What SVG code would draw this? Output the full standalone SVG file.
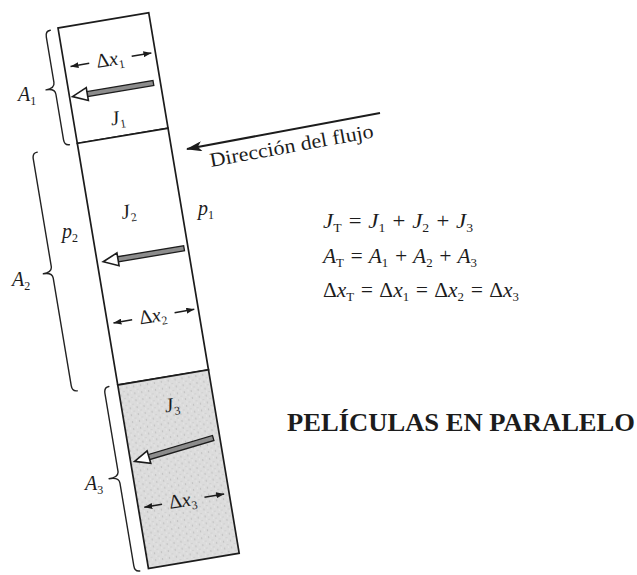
<svg xmlns="http://www.w3.org/2000/svg" width="637" height="575" viewBox="0 0 637 575">
<style>
.ln{stroke:#1c1c1c;stroke-width:1.7}
.br{fill:none;stroke:#222;stroke-width:1.4;stroke-linejoin:round;stroke-linecap:round}
.it{font-family:"Liberation Serif","DejaVu Serif",serif;font-style:italic;font-size:20px;fill:#1c1c1c}
.rm{font-family:"Liberation Serif","DejaVu Serif",serif;font-size:20px;fill:#1c1c1c}
.eq{font-family:"Liberation Serif","DejaVu Serif",serif;font-style:italic;font-size:20px;fill:#1c1c1c}
.ttl{font-family:"Liberation Serif","DejaVu Serif",serif;font-weight:bold;font-size:26px;fill:#1c1c1c}
.sb{font-size:12px;font-style:normal}
.dx{stroke:#1c1c1c;stroke-width:1.5;fill:none}
</style>
<defs>
<marker id="sa" viewBox="0 0 8 6" refX="8" refY="3" markerWidth="8" markerHeight="6" markerUnits="userSpaceOnUse" orient="auto">
<path d="M0,0 L8,3 L0,6 z" fill="#1c1c1c"/>
</marker>
<marker id="ba" viewBox="0 0 16 10" refX="15" refY="5" markerWidth="16" markerHeight="10" markerUnits="userSpaceOnUse" orient="auto">
<path d="M0,0 L16,5 L0,10 L4,5 z" fill="#1c1c1c"/>
</marker>
<pattern id="stip" width="7" height="7" patternUnits="userSpaceOnUse">
<rect width="7" height="7" fill="#dcdcdc"/>
<circle cx="1.5" cy="2" r="0.7" fill="#b5b5b5"/>
<circle cx="5" cy="5.5" r="0.6" fill="#c2c2c2"/>
<circle cx="5.5" cy="1" r="0.5" fill="#f2f2f2"/>
<circle cx="2.5" cy="5" r="0.5" fill="#f0f0f0"/>
</pattern>
<g id="harrow">
<rect x="14" y="-2.6" width="68" height="5.2" fill="#8c8c8c" stroke="#1c1c1c" stroke-width="1.3"/>
<path d="M15,-6.5 L0,0 L15,6.5 Z" fill="#fff" stroke="#1c1c1c" stroke-width="1.6"/>
</g>
</defs>
<rect width="637" height="575" fill="#fff"/>

<g transform="translate(58,28) rotate(-9.5)">
<g id="film1">
<rect x="0" y="0" width="92" height="117" fill="#fff" class="ln"/>
<text class="it" x="44" y="105" text-anchor="middle">J<tspan class="sb" dy="4">1</tspan></text>
</g>
<g id="film2">
<rect x="0" y="117" width="92" height="245" fill="#fff" class="ln"/>
<text class="it" x="39" y="199" text-anchor="middle">J<tspan class="sb" dy="4">2</tspan></text>
</g>
<g id="film3">
<rect x="0" y="362" width="92" height="186" fill="url(#stip)" class="ln"/>
<text class="it" x="50" y="397" text-anchor="middle">J<tspan class="sb" dy="4">3</tspan></text>
</g>

<g id="dx1">
<line class="dx" x1="25" y1="40" x2="6" y2="40" marker-end="url(#sa)"/>
<line class="dx" x1="68" y1="40" x2="88" y2="40" marker-end="url(#sa)"/>
<text class="rm" x="46" y="46" text-anchor="middle">Δ<tspan font-style="italic">x</tspan><tspan class="sb" dy="4">1</tspan></text>
</g>
<g id="dx2">
<line class="dx" x1="25" y1="300" x2="6" y2="300" marker-end="url(#sa)"/>
<line class="dx" x1="68" y1="300" x2="88" y2="300" marker-end="url(#sa)"/>
<text class="rm" x="46" y="306" text-anchor="middle">Δ<tspan font-style="italic">x</tspan><tspan class="sb" dy="4">2</tspan></text>
</g>
<g id="dx3">
<line class="dx" x1="24" y1="487" x2="6" y2="487" marker-end="url(#sa)"/>
<line class="dx" x1="67" y1="487" x2="87" y2="487" marker-end="url(#sa)"/>
<text class="rm" x="45" y="493" text-anchor="middle">Δ<tspan font-style="italic">x</tspan><tspan class="sb" dy="4">3</tspan></text>
</g>

<g id="braces">
<path class="br" d="M-8,1 Q-13,1 -13,7 L-13,53 Q-13,59 -22,59 Q-13,59 -13,65 L-13,111 Q-13,117 -8,117"/>
<path class="br" d="M-41,119 Q-46,119 -46,125 L-46,234 Q-46,240 -55,240 Q-46,240 -46,246 L-46,355 Q-46,361 -41,361"/>
<path class="br" d="M-9,362 Q-14,362 -14,368 L-14,447 Q-14,453 -24,453 Q-14,453 -14,459 L-14,543 Q-14,549 -9,549"/>
</g>
</g>

<g id="connectors">
<g transform="translate(58,28) rotate(-9.5)">
<use href="#harrow" transform="translate(3,70)"/>
<use href="#harrow" transform="translate(6,238)"/>
<use href="#harrow" transform="translate(4,440) rotate(-7)"/>
</g>
<line x1="380" y1="113" x2="187" y2="149" stroke="#1c1c1c" stroke-width="2" marker-end="url(#ba)"/>
</g>

<g id="labels">
<text class="it" x="18" y="101">A<tspan class="sb" dy="4">1</tspan></text>
<text class="it" x="12" y="286">A<tspan class="sb" dy="4">2</tspan></text>
<text class="it" x="85" y="490">A<tspan class="sb" dy="4">3</tspan></text>
<text class="it" x="62" y="238">p<tspan class="sb" dy="4">2</tspan></text>
<text class="it" x="198" y="215">p<tspan class="sb" dy="4">1</tspan></text>
<text class="rm" x="211" y="167" font-size="20" transform="rotate(-10.3 211 167)" textLength="166" lengthAdjust="spacingAndGlyphs">Dirección del flujo</text>
</g>

<g id="equations">
<text class="eq" x="323" y="228" textLength="150" lengthAdjust="spacingAndGlyphs">J<tspan class="sb" dy="4">T</tspan><tspan dy="-4"> = J</tspan><tspan class="sb" dy="4">1</tspan><tspan dy="-4"> + J</tspan><tspan class="sb" dy="4">2</tspan><tspan dy="-4"> + J</tspan><tspan class="sb" dy="4">3</tspan></text>
<text class="eq" x="323" y="263" textLength="154" lengthAdjust="spacingAndGlyphs">A<tspan class="sb" dy="4">T</tspan><tspan dy="-4"> = A</tspan><tspan class="sb" dy="4">1</tspan><tspan dy="-4"> + A</tspan><tspan class="sb" dy="4">2</tspan><tspan dy="-4"> + A</tspan><tspan class="sb" dy="4">3</tspan></text>
<text class="eq" x="323" y="297" textLength="196" lengthAdjust="spacingAndGlyphs"><tspan font-style="normal">Δ</tspan>x<tspan class="sb" dy="4">T</tspan><tspan dy="-4"> = </tspan><tspan font-style="normal">Δ</tspan>x<tspan class="sb" dy="4">1</tspan><tspan dy="-4"> = </tspan><tspan font-style="normal">Δ</tspan>x<tspan class="sb" dy="4">2</tspan><tspan dy="-4"> = </tspan><tspan font-style="normal">Δ</tspan>x<tspan class="sb" dy="4">3</tspan></text>
</g>

<g id="title">
<text class="ttl" x="287" y="431" textLength="348" lengthAdjust="spacingAndGlyphs">PELÍCULAS EN PARALELO</text>
</g>
</svg>
